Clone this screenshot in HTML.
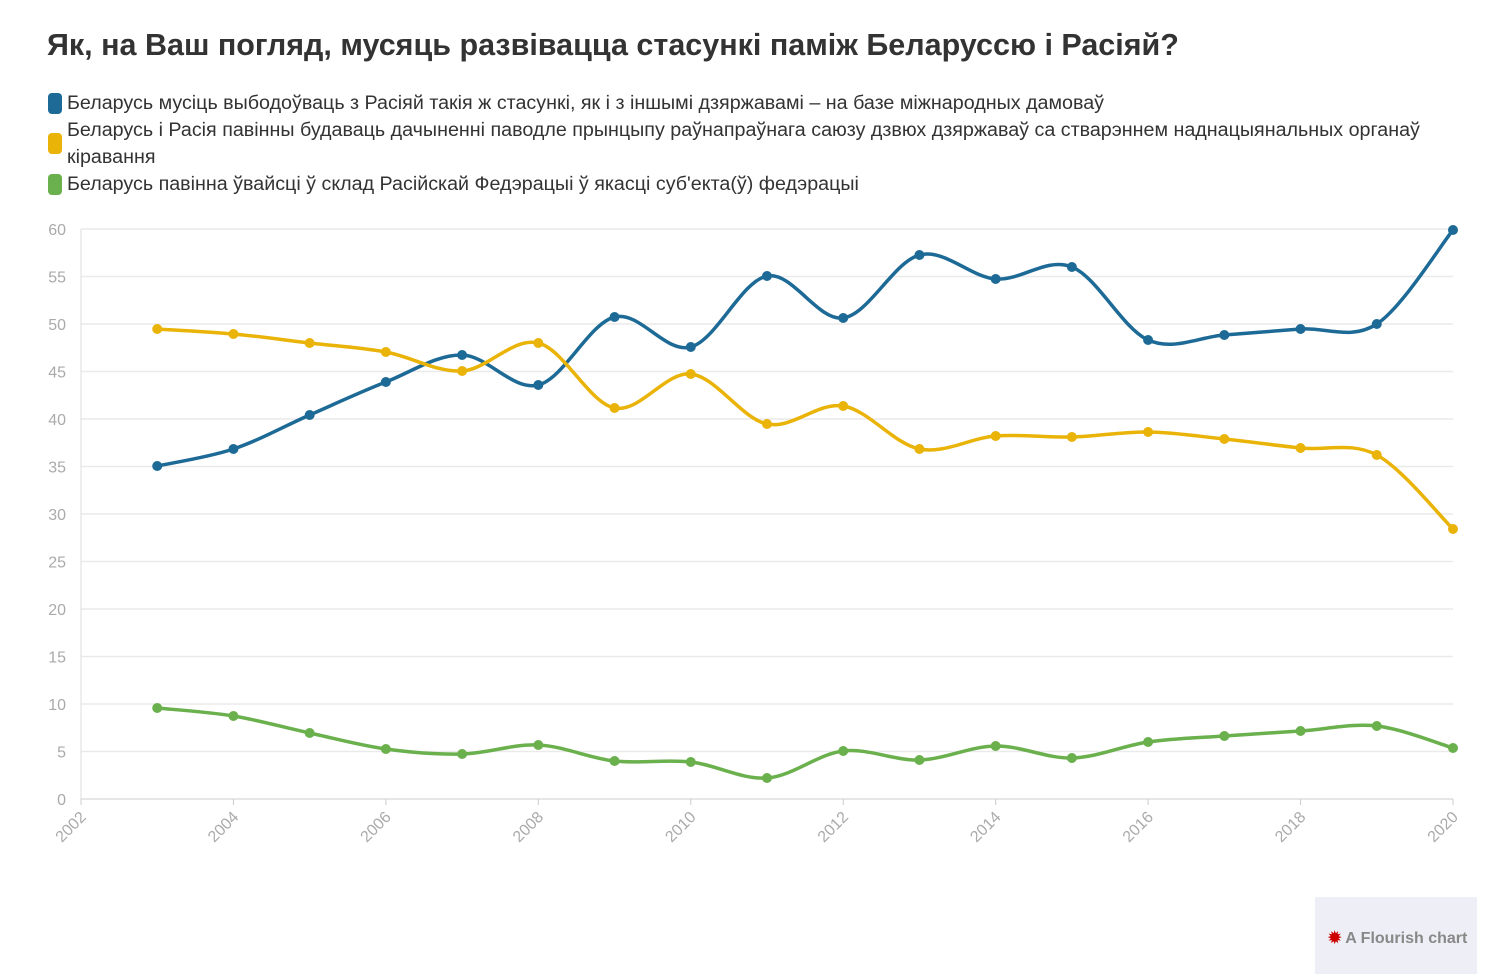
<!DOCTYPE html>
<html><head><meta charset="utf-8"><style>
body{margin:0;background:#fff;width:1501px;height:974px;overflow:hidden;font-family:"Liberation Sans",sans-serif;}
.t{position:absolute;left:47px;top:28px;font-size:30.5px;font-weight:bold;color:#333;}
.lg{position:absolute;left:48px;font-size:19.7px;color:#333;line-height:27px;}
.sw{position:absolute;left:0;top:3px;width:14px;height:21px;border-radius:4px;}
.lg span{display:block;margin-left:19px;}
</style></head><body>
<div class="t">Як, на Ваш погляд, мусяць развівацца стасункі паміж Беларуссю і Расіяй?</div>
<div class="lg" style="top:90px;white-space:nowrap"><div class="sw" style="background:#1d6a96"></div><span>Беларусь мусіць выбодоўваць з Расіяй такія ж стасункі, як і з іншымі дзяржавамі – на базе міжнародных дамоваў</span></div>
<div class="lg" style="top:117px;width:1380px"><div class="sw" style="background:#eab308;top:16px"></div><span>Беларусь і Расія павінны будаваць дачыненні паводле прынцыпу раўнапраўнага саюзу дзвюх дзяржаваў са стварэннем наднацыянальных органаў кіравання</span></div>
<div class="lg" style="top:171px;white-space:nowrap"><div class="sw" style="background:#6ab04c"></div><span>Беларусь павінна ўвайсці ў склад Расійскай Федэрацыі ў якасці суб'екта(ў) федэрацыі</span></div>
<svg id="s" width="1501" height="974" style="position:absolute;left:0;top:0" font-family="Liberation Sans, sans-serif"></svg>
<div style="position:absolute;left:1315px;top:897px;width:162px;height:77px;background:#eeeef6;"></div>
<div style="position:absolute;left:1328px;top:928px;font-size:16px;font-weight:bold;color:#888"><span style="color:#c00">✹</span> A Flourish chart</div>
<script>
const s=document.getElementById('s');let h='';
const X=y=>81+(y-2002)*76.222, Y=v=>799-v*9.5;
for(let v=0;v<=60;v+=5){const y=Y(v);h+=`<line x1="81" x2="1453" y1="${y}" y2="${y}" stroke="${v?'#eaeaea':'#ddd'}" stroke-width="1.5"/><text x="66" y="${y+6}" text-anchor="end" font-size="16" fill="#aaa">${v}</text>`;}
h+=`<line x1="81" x2="81" y1="229" y2="799" stroke="#ddd"/>`;
for(let yr=2002;yr<=2020;yr+=2){const x=X(yr);h+=`<line x1="${x}" x2="${x}" y1="799" y2="805" stroke="#ccc"/><text transform="translate(${x+6},${818}) rotate(-45)" text-anchor="end" font-size="16" fill="#aaa">${yr}</text>`;}
const D=[["#1d6a96",[466,449,415,382,355,385,317,347,276,318,255,279,267,340,335,329,324,230]],
["#eab308",[329,334,343,352,371,343,408,374,424,406,449,436,437,432,439,448,455,529]],
["#6ab04c",[708,716,733,749,754,745,761,762,778,751,760,746,758,742,736,731,726,748]]];
for(const [c,a] of D){const p=a.map((y,i)=>[X(2003+i),y]);let d=`M${p[0]}`;
for(let i=0;i<p.length-1;i++){const p0=p[i-1]||p[i],p1=p[i],p2=p[i+1],p3=p[i+2]||p2;
d+=`C${p1[0]+(p2[0]-p0[0])/6},${p1[1]+(p2[1]-p0[1])/6} ${p2[0]-(p3[0]-p1[0])/6},${p2[1]-(p3[1]-p1[1])/6} ${p2[0]},${p2[1]}`;}
h+=`<path d="${d}" fill="none" stroke="${c}" stroke-width="3.5"/>`;
p.forEach(q=>h+=`<circle cx="${q[0]}" cy="${q[1]}" r="5" fill="${c}"/>`);}
s.innerHTML=h;
</script>
</body></html>
